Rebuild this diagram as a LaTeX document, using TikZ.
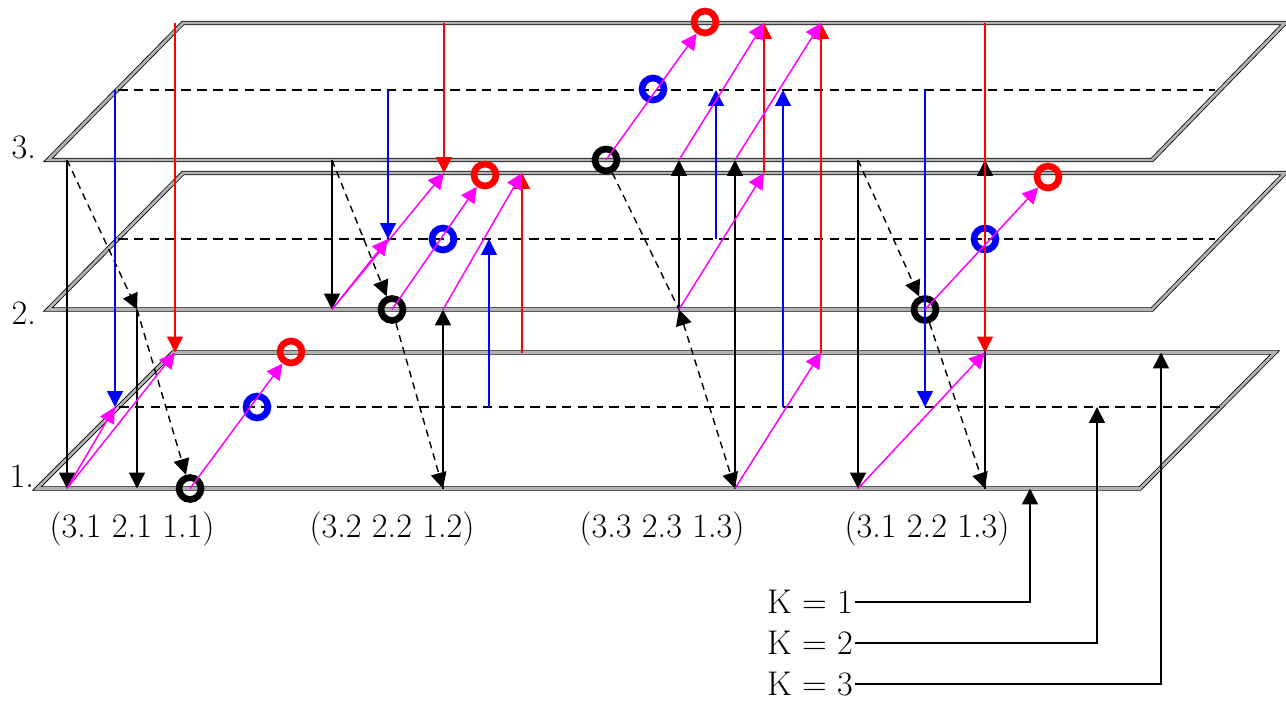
\documentclass[tikz,border=0pt]{standalone}
\usepackage{tikz}
\usetikzlibrary{arrows.meta}
\definecolor{pmag}{RGB}{255,0,255}
\definecolor{pred}{RGB}{255,0,0}
\definecolor{pblue}{RGB}{0,0,255}

\tikzset{
  plane/.style={line width=0.45pt, double=gray!60, double distance=1.6pt},
  midline/.style={line width=0.85pt, dash pattern=on 5.5pt off 3.5pt},
  blk/.style={->, line width=0.9pt},
  hop/.style={->, line width=0.8pt, dash pattern=on 4pt off 3pt},
  redl/.style={->, pred, line width=0.85pt},
  bluel/.style={->, pblue, line width=0.75pt},
  magl/.style={->, pmag, line width=0.85pt},
  ring/.style={circle, draw=#1, line width=3.8pt, minimum size=12.5pt, inner sep=0pt},
  lbl/.style={font=\fontsize{19.5}{23}\selectfont, inner sep=1pt},
}

\begin{document}
\begin{tikzpicture}[x=0.02cm, y=-0.02cm, >={Triangle[length=9pt,width=9pt]}]
  \useasboundingbox (0,0) rectangle (1286,701);

  % the three planes
  \draw[plane] (48,160) -- (1152,160) -- (1285,23) -- (183,23) -- cycle;
  \draw[plane] (48,309.5) -- (1152,309.5) -- (1285,173) -- (183,173) -- cycle;
  \draw[plane] (37,488.5) -- (1140,488.5) -- (1275,352.5) -- (173,352.5) -- cycle;
  \draw[midline] (118,90) -- (1215,90);
  \draw[midline] (118,239) -- (1215,239);
  \draw[midline] (119,407) -- (1220,407);

  \node[lbl, anchor=base east] (l3) at (38,158) {3.};
  \node[lbl, anchor=base east] (l2) at (38,324) {2.};
  \node[lbl, anchor=base east] (l1) at (36,487) {1.};

  % group (3.1 2.1 1.1)
  \coordinate (a3) at (67,160);
  \coordinate (a2) at (137,309.5);
  \coordinate (a1) at (67,488.5);
  \coordinate (a1x) at (137,488.5);
  \coordinate (aB3) at (115,90);
  \coordinate (aB1) at (115,407);
  \coordinate (aR3) at (175,23);
  \coordinate (aR1) at (175,352.5);
  \node[ring=black] (aKo) at (190,488.5) {};
  \node[ring=pblue] (aBo) at (257,407) {};
  \node[ring=pred] (aRo) at (291,352) {};
  \draw[blk] (a3) -- (a1);
  \draw[hop] (a3) -- (a2);
  \draw[blk] (a2) -- (a1x);
  \draw[hop] (a2) -- (aKo);
  \draw[redl] (aR3) -- (aR1);
  \draw[bluel] (aB3) -- (aB1);
  \draw[magl] (a1) -- (aB1);
  \draw[magl] (a1) -- (aR1);
  \draw[magl] (aKo.center) -- (aRo);

  % group (3.2 2.2 1.2)
  \coordinate (b3) at (332,160);
  \coordinate (b2) at (332,309.5);
  \coordinate (b2x) at (443,309.5);
  \coordinate (b1) at (443,488.5);
  \coordinate (bB3) at (388,90);
  \coordinate (bB2) at (388,239);
  \coordinate (bR3) at (444,23);
  \coordinate (bR2) at (444,173);
  \coordinate (bB1) at (489,407);
  \coordinate (bB2x) at (489,239);
  \coordinate (bR1) at (522,352.5);
  \coordinate (bR2x) at (522,173);
  \node[ring=black] (bKo) at (392,309.5) {};
  \node[ring=pblue] (bBo) at (443,239) {};
  \node[ring=pred] (bRo) at (485,175) {};
  \draw[blk] (b3) -- (b2);
  \draw[hop] (b3) -- (bKo);
  \draw[hop] (bKo) -- (b1);
  \draw[blk] (b1) -- (b2x);
  \draw[redl] (bR3) -- (bR2);
  \draw[redl] (bR1) -- (bR2x);
  \draw[bluel] (bB3) -- (bB2);
  \draw[bluel] (bB1) -- (bB2x);
  \draw[magl] (b2) -- (bB2);
  \draw[magl] (b2) -- (bR2);
  \draw[magl] (bKo.center) -- (bRo);
  \draw[magl] (b2x) -- (bR2x);

  % group (3.3 2.3 1.3)
  \coordinate (c3) at (679,160);
  \coordinate (c2) at (679,309.5);
  \coordinate (c3x) at (735,160);
  \coordinate (c1) at (735,488.5);
  \coordinate (cR3) at (764,23);
  \coordinate (cR2) at (764,173);
  \coordinate (cR3x) at (821,23);
  \coordinate (cR1) at (821,352.5);
  \coordinate (cB3) at (716,90);
  \coordinate (cB2) at (716,239);
  \coordinate (cB3x) at (783,90);
  \coordinate (cB1) at (783,407);
  \node[ring=black] (cKo) at (606,160) {};
  \node[ring=pblue] (cBo) at (653,89) {};
  \node[ring=pred] (cRo) at (705,22) {};
  \draw[blk] (c2) -- (c3);
  \draw[blk] (c1) -- (c3x);
  \draw[hop, -] (cKo) -- (c2);
  \draw[hop, <->] (c2) -- (c1);
  \draw[redl] (cR2) -- (cR3);
  \draw[redl] (cR1) -- (cR3x);
  \draw[bluel] (cB2) -- (cB3);
  \draw[bluel] (cB1) -- (cB3x);
  \draw[magl] (cKo.center) -- (cRo);
  \draw[magl] (c3) -- (cR3);
  \draw[magl] (c3x) -- (cR3x);
  \draw[magl] (c2) -- (cR2);
  \draw[magl] (c1) -- (cR1);

  % group (3.1 2.2 1.3)
  \coordinate (d3) at (858,160);
  \coordinate (d1) at (858,488.5);
  \coordinate (d3x) at (985,160);
  \coordinate (d1x) at (985,488.5);
  \coordinate (dB3) at (925,90);
  \coordinate (dB1) at (925,407);
  \coordinate (dR3) at (985,23);
  \coordinate (dR1) at (985,352.5);
  \node[ring=black] (dKo) at (925,309.5) {};
  \node[ring=pblue] (dBo) at (985,239) {};
  \node[ring=pred] (dRo) at (1048,177) {};
  \draw[blk] (d3) -- (d1);
  \draw[hop] (d3) -- (dKo);
  \draw[hop] (dKo) -- (d1x);
  \draw[blk] (d1x) -- (d3x);
  \draw[redl] (dR3) -- (dR1);
  \draw[bluel] (dB3) -- (dB1);
  \draw[magl] (d1) -- (dR1);
  \draw[magl] (dKo.center) -- (dRo);

  % state labels
  \node[lbl] (ta) at (132,529) {(3.1 2.1 1.1)};
  \node[lbl] (tb) at (392,529) {(3.2 2.2 1.2)};
  \node[lbl] (tc) at (662,529) {(3.3 2.3 1.3)};
  \node[lbl] (td) at (927,529) {(3.1 2.2 1.3)};

  % K legend
  \node[lbl] (k1) at (810,602) {K = 1};
  \node[lbl] (k2) at (810,643) {K = 2};
  \node[lbl] (k3) at (810,684) {K = 3};
  \coordinate (k1t) at (1030,488.5);
  \coordinate (k2t) at (1097,407);
  \coordinate (k3t) at (1161,352.5);
  \draw[blk] (k1.east) -| (k1t);
  \draw[blk] (k2.east) -| (k2t);
  \draw[blk] (k3.east) -| (k3t);
\end{tikzpicture}
\end{document}
